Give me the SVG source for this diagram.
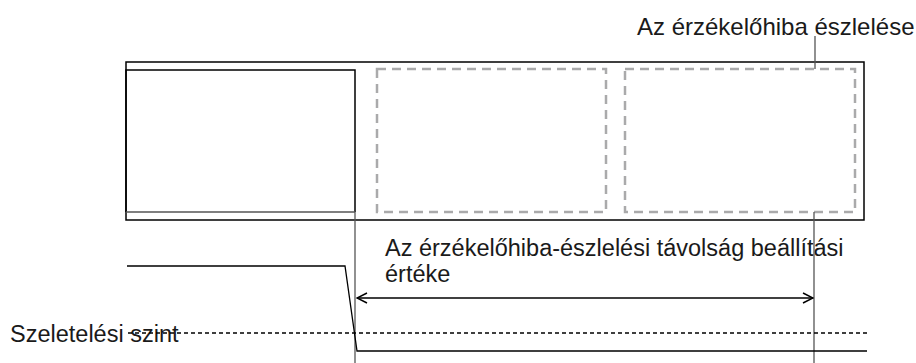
<svg xmlns="http://www.w3.org/2000/svg" width="916" height="363" viewBox="0 0 916 363">
<style>
.t{font-family:"Liberation Sans",Arial,sans-serif;font-size:23.5px;fill:#1a1a1a}
.solid{fill:none;stroke:#000;stroke-width:1.5}
.dash{fill:none;stroke:#aaaaab;stroke-width:2.5;stroke-dasharray:9,6}
.guide{fill:none;stroke:#555;stroke-width:1.3}
.thin{fill:none;stroke:#000;stroke-width:1.3}
</style>
<defs>
<marker id="ah" viewBox="0 0 12 12" refX="11" refY="6" markerWidth="12" markerHeight="12" markerUnits="userSpaceOnUse" orient="auto-start-reverse">
<path d="M1,1 L11,6 L1,11" fill="none" stroke="#000" stroke-width="1.5"/>
</marker>
</defs>
<rect width="916" height="363" fill="#fff"/>
<g id="frame"><rect class="solid" x="126" y="62" width="738" height="158"/></g>
<g id="sensor-box">
<path class="solid" d="M126,212 L126,70 L355,70 L355,212"/>
<line class="guide" x1="126" y1="212" x2="355" y2="212"/>
</g>
<g id="detect-box-1"><rect class="dash" x="377" y="69" width="229" height="143"/></g>
<g id="detect-box-2"><rect class="dash" x="625" y="69" width="230" height="143"/></g>
<g id="labels">
<text class="t" x="637" y="35" style="font-size:24px">Az érzékelőhiba észlelése</text>
<text class="t" x="385" y="256">Az érzékelőhiba-észlelési távolság beállítási</text>
<text class="t" x="385" y="282">értéke</text>
<text class="t" x="10" y="342">Szeletelési szint</text>
</g>
<g id="connectors">
<line class="guide" x1="815" y1="36" x2="815" y2="69"/>
<line class="guide" x1="355" y1="212" x2="355" y2="363"/>
<line class="guide" x1="814" y1="212" x2="814" y2="363"/>
<line class="thin" x1="357" y1="298" x2="813" y2="298" marker-start="url(#ah)" marker-end="url(#ah)"/>
<line class="thin" x1="128" y1="333" x2="868" y2="333" stroke-dasharray="4,3"/>
<polyline class="thin" points="127,266 345,266 357,351 867,351"/>
</g>
</svg>
